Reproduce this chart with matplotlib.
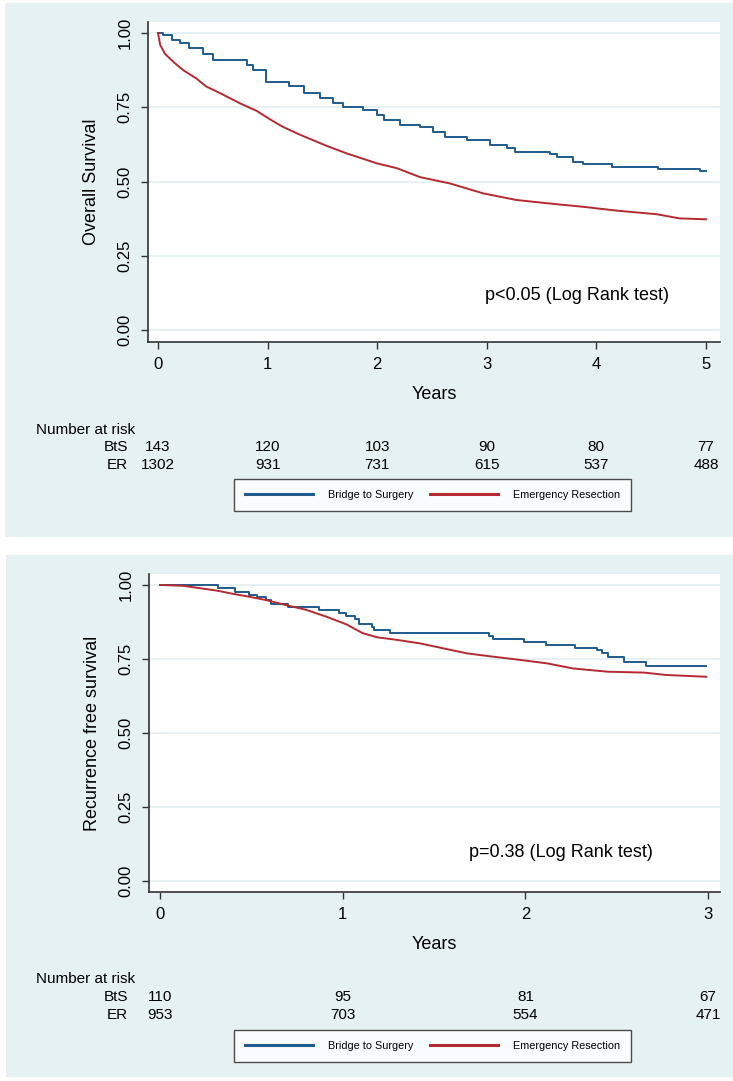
import matplotlib
matplotlib.use("Agg")
import matplotlib.pyplot as plt
from matplotlib.patches import Rectangle
from matplotlib.lines import Line2D
from matplotlib import transforms

# -----------------------------
# Data
# -----------------------------
# Panel 1: overall survival, 5 years
os_bts_t = [0, 0.05, 0.125, 0.2, 0.28, 0.41, 0.50, 0.81, 0.87, 0.99, 1.2, 1.33, 1.48, 1.6, 1.69,
            1.87, 2.0, 2.06, 2.21, 2.39, 2.51, 2.62, 2.82, 3.03, 3.18, 3.26, 3.58, 3.64, 3.79,
            3.88, 4.14, 4.56, 4.95, 5.0]
os_bts_s = [1.0, 0.993, 0.976, 0.965, 0.948, 0.93, 0.909, 0.893, 0.875, 0.836, 0.82, 0.797, 0.78,
            0.763, 0.752, 0.74, 0.724, 0.707, 0.69, 0.684, 0.668, 0.651, 0.64, 0.623, 0.612, 0.60,
            0.592, 0.584, 0.567, 0.558, 0.55, 0.542, 0.536, 0.536]
os_er_t = [0, 0.02, 0.064, 0.14, 0.23, 0.35, 0.44, 0.57, 0.75, 0.90, 1.02, 1.14, 1.3, 1.54, 1.72,
           2.0, 2.18, 2.39, 2.66, 2.97, 3.27, 3.55, 3.88, 4.19, 4.55, 4.76, 5.0]
os_er_s = [1.0, 0.96, 0.93, 0.903, 0.875, 0.847, 0.82, 0.797, 0.763, 0.738, 0.71, 0.684, 0.657,
           0.62, 0.595, 0.561, 0.545, 0.515, 0.494, 0.46, 0.438, 0.427, 0.415, 0.402, 0.39, 0.376,
           0.373]

# Panel 2: recurrence free survival, 3 years
rfs_bts_t = [0, 0.31, 0.32, 0.41, 0.49, 0.53, 0.58, 0.61, 0.70, 0.87, 0.98, 1.02, 1.07, 1.09,
             1.16, 1.17, 1.26, 1.80, 1.82, 1.99, 2.11, 2.27, 2.39, 2.42, 2.45, 2.54, 2.66, 2.99]
rfs_bts_s = [1.0, 1.0, 0.989, 0.977, 0.966, 0.96, 0.949, 0.936, 0.925, 0.916, 0.906, 0.896,
             0.884, 0.868, 0.859, 0.848, 0.839, 0.828, 0.818, 0.809, 0.797, 0.788, 0.78, 0.769,
             0.758, 0.739, 0.726, 0.726]
rfs_er_t = [0, 0.13, 0.22, 0.31, 0.40, 0.49, 0.58, 0.69, 0.80, 0.91, 1.02, 1.11, 1.19, 1.28,
            1.42, 1.55, 1.68, 1.82, 1.97, 2.12, 2.26, 2.45, 2.65, 2.77, 2.99]
rfs_er_s = [1.0, 0.997, 0.989, 0.981, 0.97, 0.96, 0.949, 0.932, 0.916, 0.893, 0.867, 0.837,
            0.823, 0.816, 0.803, 0.786, 0.769, 0.758, 0.747, 0.735, 0.718, 0.707, 0.704, 0.696,
            0.69]

# Number at risk tables
os_years = [0, 1, 2, 3, 4, 5]
os_risk_bts = [143, 120, 103, 90, 80, 77]
os_risk_er = [1302, 931, 731, 615, 537, 488]
rfs_years = [0, 1, 2, 3]
rfs_risk_bts = [110, 95, 81, 67]
rfs_risk_er = [953, 703, 554, 471]

group_labels = ["BtS", "ER"]
legend_labels = ["Bridge to Surgery", "Emergency Resection"]

# -----------------------------
# Style
# -----------------------------
W, H = 733, 1081
BG = "#e6f1f3"
GRID = "#e3eef1"
BLUE = "#1f5b8c"
RED = "#b52a31"
plt.rcParams["font.family"] = ["Liberation Sans", "DejaVu Sans"]

fig = plt.figure(figsize=(W / 100, H / 100), dpi=100)


def fx(px):
    return px / W


def fy(py):
    return 1 - py / H


def panel(bg_box, ax_box, xlim, ylim, ticks, ylabel, ptext, ptext_xy,
          curves, risk_years, risk_rows, risk_y, legend_y):
    x0, y0, x1, y1 = bg_box
    fig.patches.append(Rectangle((fx(x0), fy(y1)), fx(x1 - x0), (y1 - y0) / H,
                                 transform=fig.transFigure, facecolor=BG,
                                 edgecolor="none", zorder=-5))
    l, t, r, b = ax_box
    ax = fig.add_axes([fx(l), fy(b), fx(r - l), (b - t) / H])
    ax.set_zorder(2)
    ax.set_facecolor("white")
    ax.set_xlim(*xlim)
    ax.set_ylim(*ylim)
    for s in ["top", "right"]:
        ax.spines[s].set_visible(False)
    for s in ["left", "bottom"]:
        ax.spines[s].set_color("#333333")
        ax.spines[s].set_linewidth(1.2)
    ax.set_yticks([0, 0.25, 0.5, 0.75, 1.0])
    ax.set_yticklabels(["0.00", "0.25", "0.50", "0.75", "1.00"], rotation=90, va="center")
    ax.set_xticks(ticks)
    ax.tick_params(axis="both", labelsize=12, length=5, width=1, color="#333333",
                   direction="out")
    ax.tick_params(axis="y", pad=6)
    ax.tick_params(axis="x", pad=6)
    ax.grid(axis="y", color=GRID, linewidth=1.2)
    ax.set_axisbelow(True)
    ax.set_ylabel(ylabel, fontsize=13, labelpad=13)
    ax.set_xlabel("Years", fontsize=13, labelpad=10)

    # BtS drawn as KM steps, ER has so many events it reads as a smooth line
    (bt, bs), (et, es) = curves
    ax.plot(bt, bs, drawstyle="steps-post", color=BLUE, linewidth=1.4)
    ax.plot(et, es, color=RED, linewidth=1.4)

    ax.text(ptext_xy[0], ptext_xy[1], ptext, fontsize=13, ha="left", va="center")

    # number at risk table
    tr = transforms.blended_transform_factory(ax.transData, fig.transFigure)
    fig.text(fx(36), fy(risk_y[0]), "Number at risk", fontsize=11,
             ha="left", va="center")
    for lab, row, yy in zip(group_labels, risk_rows, risk_y[1:]):
        fig.text(fx(128), fy(yy), lab, fontsize=11, ha="right", va="center")
        for xv, n in zip(risk_years, row):
            ax.text(xv, fy(yy), str(n), transform=tr, fontsize=11,
                    ha="center", va="center", clip_on=False)

    handles = [Line2D([], [], color=BLUE, lw=2.2), Line2D([], [], color=RED, lw=2.2)]
    leg = fig.legend(handles, legend_labels, loc="center", ncol=2,
                     bbox_to_anchor=(fx(432.5), fy(legend_y)), frameon=True, fancybox=False,
                     prop={"size": 7.8}, handlelength=6.3, handletextpad=1.4,
                     columnspacing=1.5, borderpad=1.0)
    leg.get_frame().set_edgecolor("#222222")
    leg.get_frame().set_linewidth(1.0)
    return ax


panel((5, 3, 733, 537), (148, 22, 720, 342), (-0.091, 5.128), (-0.040, 1.037),
      os_years, "Overall Survival", "p<0.05 (Log Rank test)", (2.98, 0.115),
      [(os_bts_t, os_bts_s), (os_er_t, os_er_s)], os_years,
      [os_risk_bts, os_risk_er], (430, 447, 465), 495)

panel((6, 555, 733, 1077), (149, 574, 720, 892), (-0.060, 3.065), (-0.037, 1.037),
      rfs_years, "Recurrence free survival", "p=0.38 (Log Rank test)", (1.69, 0.095),
      [(rfs_bts_t, rfs_bts_s), (rfs_er_t, rfs_er_s)], rfs_years,
      [rfs_risk_bts, rfs_risk_er], (979, 997, 1015), 1046)

fig.savefig("out.png", dpi=100)
